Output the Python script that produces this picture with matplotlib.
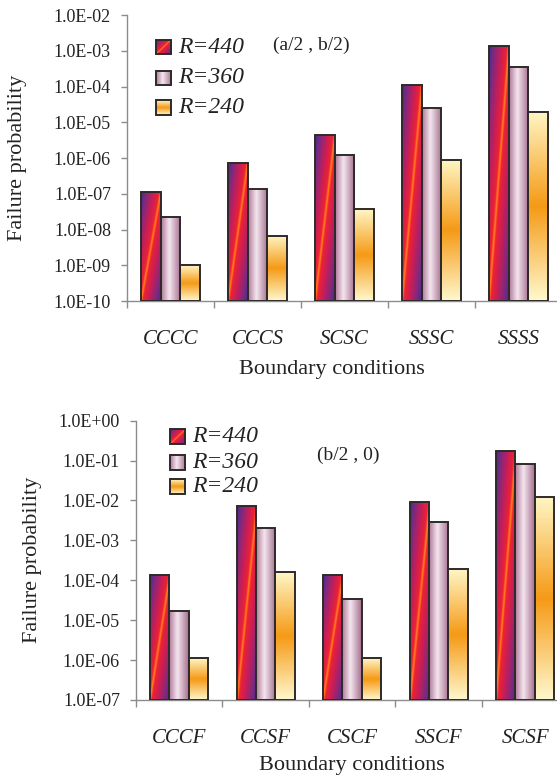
import numpy as np
import matplotlib
matplotlib.use("Agg")
import matplotlib.pyplot as plt
from matplotlib.colors import LinearSegmentedColormap
from matplotlib.patches import Rectangle
from matplotlib.ticker import FixedLocator, NullLocator, FuncFormatter

# data
series = ['R=440', 'R=360', 'R=240']

cats_top = ['CCCC', 'CCCS', 'SCSC', 'SSSC', 'SSSS']
r440_top = [1.09e-7, 7.4e-7, 4.4e-6, 1.09e-4, 1.35e-3]
r360_top = [2.2e-8, 1.32e-7, 1.24e-6, 2.46e-5, 3.6e-4]
r240_top = [1.0e-9, 6.8e-9, 3.65e-8, 9.0e-7, 2.0e-5]

cats_bot = ['CCCF', 'CCSF', 'CSCF', 'SSCF', 'SCSF']
r440_bot = [1.33e-4, 7.1e-3, 1.33e-4, 9.4e-3, 1.71e-1]
r360_bot = [1.68e-5, 2.08e-3, 3.4e-5, 2.88e-3, 8.2e-2]
r240_bot = [1.12e-6, 1.59e-4, 1.12e-6, 1.89e-4, 1.21e-2]

plt.rcParams['font.family'] = ['Liberation Serif', 'DejaVu Serif']
text_col = '#222222'
axis_col = '#8c8c8c'
edge_col = '#2e2a2a'

# gradient fills, one per series
fire = LinearSegmentedColormap.from_list('fire', [
    (0.0, '#ff9020'), (0.03, '#ff5a24'), (0.09, '#ee2232'), (0.4, '#c41e5a'),
    (0.75, '#7a2a80'), (1.0, '#4a2a8c')])
pink = LinearSegmentedColormap.from_list('pink', [
    (0.0, '#b07898'), (0.42, '#f4e6ef'), (1.0, '#a66e8e')])
peach = LinearSegmentedColormap.from_list('peach', [
    (0.0, '#fff8cc'), (0.5, '#f59a16'), (1.0, '#fff6c4')])

xx, yy = np.meshgrid(np.linspace(0, 1, 80), np.linspace(0, 1, 300))
grads = [
    fire(np.abs(xx - yy)),
    pink(xx),
    peach(yy),
]


def fill_gradient(ax, patch, img, extent):
    im = ax.imshow(img, extent=extent, origin='lower', aspect='auto',
                   transform=ax.transAxes, interpolation='bilinear', zorder=2)
    im.set_clip_path(patch)


def draw_panel(ax, cats, vals, ylo, yhi, ylab_x, xlab_x, xlab_y, note, note_xy,
               leg_x, leg_txt_x, leg_y, leg_w, leg_h):
    ax.set_yscale('log')
    ax.set_ylim(ylo, yhi)
    ax.set_xlim(-0.5, len(cats) - 0.5)
    x = np.arange(len(cats))
    w = 0.224
    to_axes = ax.transAxes.inverted()
    for k, v in enumerate(vals):
        v = np.array(v)
        bars = ax.bar(x + (k - 1) * w, v - ylo, bottom=ylo, width=w,
                      facecolor='none', edgecolor=edge_col, linewidth=1.4, zorder=3)
        for b in bars:
            (x0, y0), (x1, y1) = to_axes.transform(b.get_window_extent().get_points())
            fill_gradient(ax, b, grads[k], [x0, x1, y0, y1])

    # legend drawn by hand so the keys can carry the gradients
    for k, name in enumerate(series):
        r = Rectangle((leg_x, leg_y[k] - leg_h / 2), leg_w, leg_h, transform=ax.transAxes,
                      facecolor='none', edgecolor=edge_col, linewidth=1.4, zorder=5)
        ax.add_patch(r)
        im = ax.imshow(grads[k], extent=[leg_x, leg_x + leg_w, leg_y[k] - leg_h / 2, leg_y[k] + leg_h / 2],
                       origin='lower', aspect='auto', transform=ax.transAxes, zorder=4)
        im.set_clip_path(r)
        ax.text(leg_txt_x, leg_y[k], name, transform=ax.transAxes, fontsize=17,
                style='italic', color=text_col, va='center', ha='left')

    ax.text(note_xy[0], note_xy[1], note, transform=ax.transAxes, fontsize=14,
            color=text_col, ha='center', va='center')

    ax.set_xlim(-0.5, len(cats) - 0.5)
    ax.set_ylim(ylo, yhi)

    for s in ['top', 'right']:
        ax.spines[s].set_visible(False)
    for s in ['left', 'bottom']:
        ax.spines[s].set_color(axis_col)
        ax.spines[s].set_linewidth(1.0)

    decades = 10.0 ** np.arange(np.log10(ylo), np.log10(yhi) + 0.5)
    ax.yaxis.set_major_locator(FixedLocator(decades))
    ax.yaxis.set_minor_locator(NullLocator())
    ax.yaxis.set_major_formatter(FuncFormatter(lambda v, p: f'{v:.1E}'))
    ax.tick_params(axis='y', which='major', length=4.5, width=1.0, color=axis_col,
                   pad=7, labelsize=13, labelcolor=text_col)

    ax.set_xticks(x)
    ax.set_xticklabels(cats, fontsize=15, style='italic', color=text_col)
    ax.set_xticks(np.arange(len(cats)) - 0.5, minor=True)
    ax.tick_params(axis='x', which='major', length=0, pad=21)
    ax.tick_params(axis='x', which='minor', length=5, width=1.0, color=axis_col)

    ax.set_ylabel('Failure probability', fontsize=16, color=text_col)
    ax.yaxis.set_label_coords(ylab_x, 0.5)
    ax.set_xlabel('Boundary conditions', fontsize=16, color=text_col)
    ax.xaxis.set_label_coords(xlab_x, xlab_y)


fig = plt.figure(figsize=(5.57, 7.75), dpi=100)

ax1 = fig.add_axes([0.228, 0.6116, 0.781, 0.369])
ax2 = fig.add_axes([0.244, 0.0968, 0.7765, 0.3604])

draw_panel(ax1, cats_top, [r440_top, r360_top, r240_top], 1e-10, 1e-2,
           ylab_x=-0.23, xlab_x=0.471, xlab_y=-0.205,
           note='(a/2 , b/2)', note_xy=(0.424, 0.895),
           leg_x=0.067, leg_txt_x=0.117, leg_y=[0.888, 0.78, 0.678],
           leg_w=0.0345, leg_h=0.052)

draw_panel(ax2, cats_bot, [r440_bot, r360_bot, r240_bot], 1e-7, 1e0,
           ylab_x=-0.217, xlab_x=0.5, xlab_y=-0.2,
           note='(b/2 , 0)', note_xy=(0.49, 0.877),
           leg_x=0.0786, leg_txt_x=0.129, leg_y=[0.942, 0.852, 0.763],
           leg_w=0.0347, leg_h=0.0537)

fig.savefig('out.png', dpi=100)
